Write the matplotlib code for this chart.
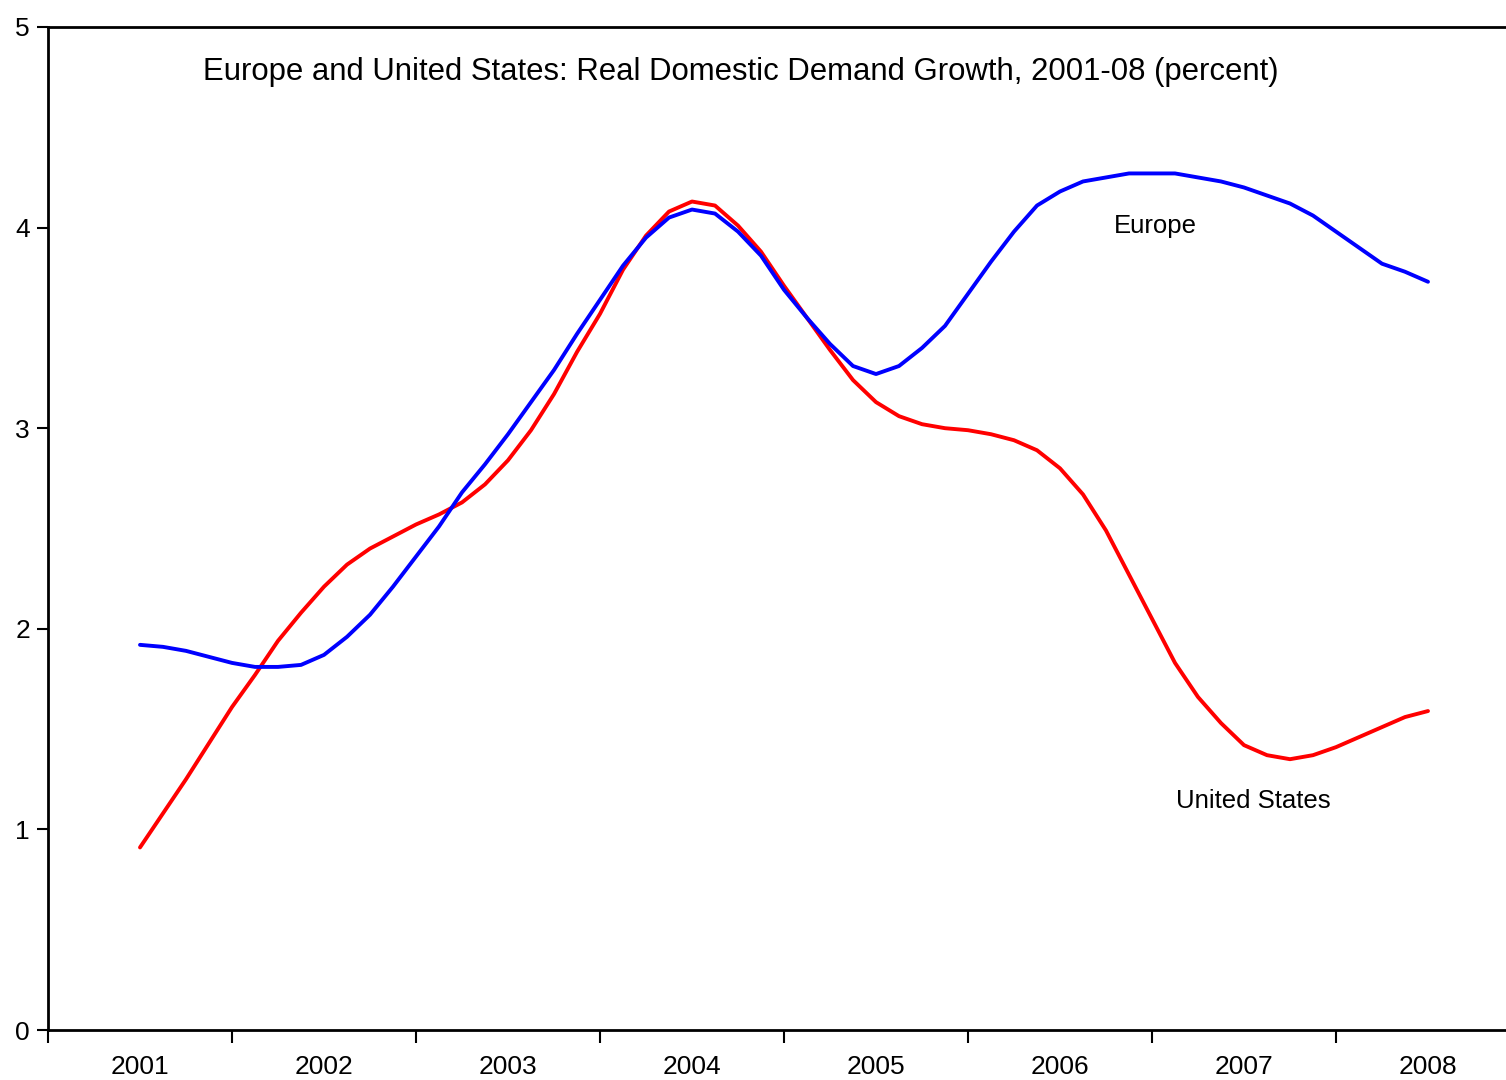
import matplotlib
matplotlib.use("Agg")
import matplotlib.pyplot as plt
import numpy as np

plt.rcParams['font.family'] = ['Liberation Sans', 'DejaVu Sans']

years = ["2001", "2002", "2003", "2004", "2005", "2006", "2007", "2008"]

# eighth-of-year steps from 2001 to 2008
steps_per_year = 8

europe = [1.92, 1.91, 1.89, 1.86, 1.83, 1.81, 1.81, 1.82, 1.87, 1.96,
          2.07, 2.21, 2.36, 2.51, 2.68, 2.82, 2.97, 3.13, 3.29, 3.47,
          3.64, 3.81, 3.95, 4.05, 4.09, 4.07, 3.98, 3.86, 3.69, 3.55,
          3.42, 3.31, 3.27, 3.31, 3.40, 3.51, 3.67, 3.83, 3.98, 4.11,
          4.18, 4.23, 4.25, 4.27, 4.27, 4.27, 4.25, 4.23, 4.20, 4.16,
          4.12, 4.06, 3.98, 3.90, 3.82, 3.78, 3.73]

united_states = [0.91, 1.08, 1.25, 1.43, 1.61, 1.77, 1.94, 2.08, 2.21, 2.32,
                 2.40, 2.46, 2.52, 2.57, 2.63, 2.72, 2.84, 2.99, 3.17, 3.38,
                 3.57, 3.79, 3.96, 4.08, 4.13, 4.11, 4.01, 3.88, 3.71, 3.55,
                 3.39, 3.24, 3.13, 3.06, 3.02, 3.00, 2.99, 2.97, 2.94, 2.89,
                 2.80, 2.67, 2.49, 2.27, 2.05, 1.83, 1.66, 1.53, 1.42, 1.37,
                 1.35, 1.37, 1.41, 1.46, 1.51, 1.56, 1.59]

title = "Europe and United States: Real Domestic Demand Growth, 2001-08 (percent)"

t = np.arange(len(europe)) / steps_per_year

fig = plt.figure(figsize=(15.06, 10.8), dpi=100)
ax = fig.add_axes([48/1506, 1 - 1030/1080, 1 - 48/1506, (1030 - 27)/1080])

ax.plot(t, united_states, color='#ff0000', lw=2.8, solid_joinstyle='round',
        solid_capstyle='round')
ax.plot(t, europe, color='#0000ff', lw=2.8, solid_joinstyle='round',
        solid_capstyle='round')

ax.set_ylim(0, 5)
ax.set_xlim(-0.5, (1506 - 140) / 184)
ax.set_yticks(range(0, 6))
ax.tick_params(axis='y', direction='out', length=8, width=1.5, labelsize=19, pad=5)

pos = np.arange(len(years))
ax.set_xticks(pos - 0.5)
ax.set_xticklabels([])
ax.set_xticks(pos, minor=True)
ax.set_xticklabels(years, minor=True)
ax.tick_params(axis='x', which='major', direction='out', length=9, width=1.5)
ax.tick_params(axis='x', which='minor', length=0, labelsize=19, pad=18)

for s in ['left', 'bottom', 'top']:
    ax.spines[s].set_linewidth(2)
ax.spines['right'].set_visible(False)

fig.text(741 / 1506, 1 - 72 / 1080, title, fontsize=22.4, ha='center', va='center')
ax.text((1155 - 140) / 184, 4.01, "Europe", fontsize=18.5, ha='center', va='center')
ax.text((1253 - 140) / 184, 1.14, "United States", fontsize=18.5, ha='center', va='center')

fig.savefig("out.png", dpi=100)
